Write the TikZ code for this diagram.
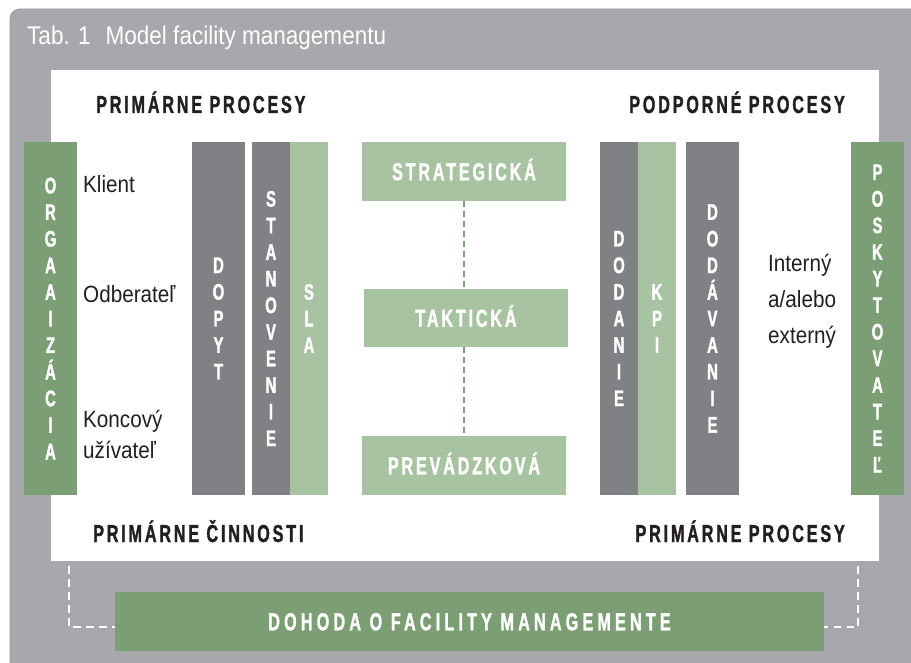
\documentclass[tikz,border=0pt]{standalone}
\usepackage{fontspec}
\newfontfamily\condf{Liberation Sans}[FakeStretch=0.88]
\newfontfamily\heavyf{Liberation Sans Bold}[FakeStretch=0.66,LetterSpace=11.5,FakeBold=1.3]
\newfontfamily\widef{Liberation Sans Bold}[FakeStretch=0.66,LetterSpace=17,FakeBold=1.3]
\newfontfamily\stackf{Liberation Sans Bold}[FakeStretch=0.66,FakeBold=1.4]
\definecolor{panelgray}{HTML}{A7A8AB}
\definecolor{paneledge}{HTML}{98999C}
\definecolor{bargray}{HTML}{808184}
\definecolor{lgreen}{HTML}{A8C3A2}
\definecolor{dgreen}{HTML}{7C9E74}
\definecolor{ink}{HTML}{231F20}
\begin{document}
\begin{tikzpicture}[x=1pt,y=-1pt,
  bar/.style={inner sep=0pt, outer sep=0pt, text=white, align=center,
    minimum height=353pt, font={\stackf\fontsize{22.5}{26.6}\selectfont}},
  box/.style={inner sep=0pt, outer sep=0pt, fill=lgreen, text=white,
    text height=17.5pt, text depth=0pt, minimum width=204pt,
    font={\heavyf\fontsize{24.5}{28}\selectfont}},
  heading/.style={inner sep=0pt, text=ink, font={\heavyf\fontsize{24.5}{28}\selectfont}},
  plain/.style={inner sep=0pt, text=ink, anchor=base west, font={\condf\fontsize{23.5}{28}\selectfont}},
  gdash/.style={dgreen, line width=2.4pt, dash pattern=on 6pt off 4pt},
  wdash/.style={white, line width=2pt, dash pattern=on 7.5pt off 5.5pt},
]
\useasboundingbox (0,0) rectangle (911,663);
\clip (0,0) rectangle (911,663);
% panels
\path[fill=panelgray, draw=paneledge, line width=0.8pt, rounded corners=10pt] (10,9) rectangle (940,700);
\fill[white] (51,70) rectangle (879,561);
% title
\node[inner sep=0pt, anchor=base west, text=white, font={\condf\fontsize{25.6}{30}\selectfont}] (title) at (27,45) {Tab. 1\hspace{15pt}Model facility managementu};
% headings
\node[heading, anchor=base west] (pp) at (96,113) {PRIMÁRNE PROCESY};
\node[heading, anchor=base east] (podp) at (845,113) {PODPORNÉ PROCESY};
\node[heading, anchor=base west] (pc) at (93,542) {PRIMÁRNE ČINNOSTI};
\node[heading, anchor=base east] (pp2) at (845,542) {PRIMÁRNE PROCESY};
% left bars
\node[bar, fill=dgreen, minimum width=53pt] (org) at (50.5,318.5) {O\\R\\G\\A\\A\\I\\Z\\Á\\C\\I\\A};
\node[bar, fill=bargray, minimum width=53pt] (dopyt) at (218.5,318.5) {D\\O\\P\\Y\\T};
\node[bar, fill=bargray, minimum width=38pt] (stan) at (271,318.5) {S\\T\\A\\N\\O\\V\\E\\N\\I\\E};
\node[bar, fill=lgreen, minimum width=38pt] (sla) at (309,318.5) {S\\L\\A};
% middle boxes
\node[box, minimum height=59pt] (strat) at (464,171.5) {STRATEGICKÁ};
\node[box, minimum height=58pt] (takt) at (466,318) {TAKTICKÁ};
\node[box, minimum height=59pt] (prev) at (464,465.5) {PREVÁDZKOVÁ};
\draw[gdash] (strat.south) -- (strat.south |- takt.north);
\draw[gdash] (prev.north |- takt.south) -- (prev.north);
% right bars
\node[bar, fill=bargray, minimum width=38pt] (dodanie) at (619,318.5) {D\\O\\D\\A\\N\\I\\E};
\node[bar, fill=lgreen, minimum width=38pt] (kpi) at (657,318.5) {K\\P\\I};
\node[bar, fill=bargray, minimum width=53pt] (dodav) at (712.5,318.5) {D\\O\\D\\Á\\V\\A\\N\\I\\E};
\node[bar, fill=dgreen, minimum width=53pt] (posk) at (877.5,318.5) {P\\O\\S\\K\\Y\\T\\O\\V\\A\\T\\E\\Ľ};
% plain labels
\node[plain] (klient) at (83,193) {Klient};
\node[plain] (odb) at (83,303) {Odberateľ};
\node[plain] (konc) at (83,427) {Koncový};
\node[plain] (uziv) at (83,458) {užívateľ};
\node[plain] (int) at (768,272) {Interný};
\node[plain] (aal) at (768,308) {a/alebo};
\node[plain] (ext) at (768,343) {externý};
% bottom agreement bar
\node[box, fill=dgreen, minimum width=709pt, minimum height=59pt,
  font={\widef\fontsize{24.5}{28}\selectfont}] (dohoda) at (469.5,621.5) {DOHODA O FACILITY MANAGEMENTE};
\coordinate (dl) at (69,566);
\coordinate (dr) at (858,566);
\draw[wdash] (dl) |- ([yshift=-5.5pt]dohoda.west);
\draw[wdash] (dr) |- ([yshift=-5.5pt]dohoda.east);
\end{tikzpicture}
\end{document}
